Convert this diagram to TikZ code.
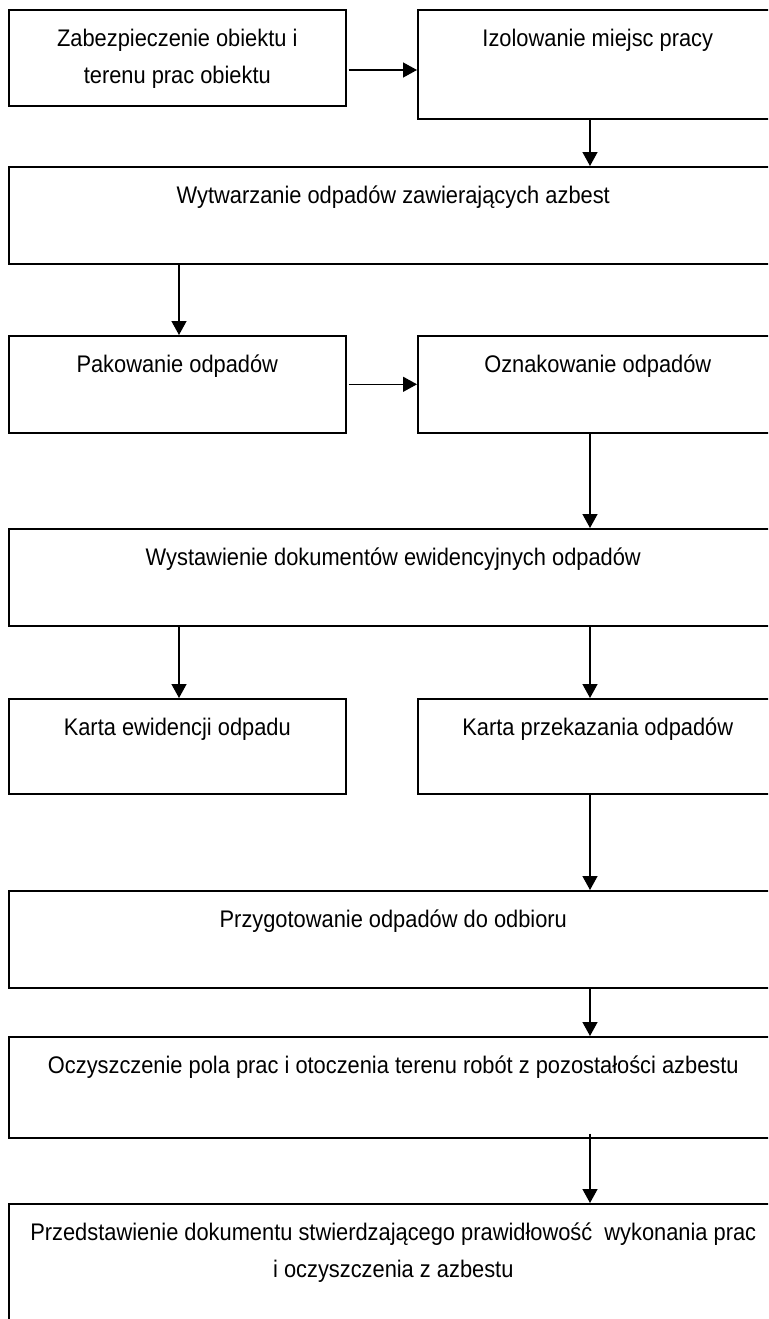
\documentclass[tikz,border=0pt]{standalone}
\usepackage{fontspec}
\setmainfont{Liberation Sans}[FakeStretch=0.91]
\usetikzlibrary{arrows.meta}

\begin{document}
\begin{tikzpicture}[
    x=1pt,y=-1pt,
    >={Triangle[length=14pt,width=15pt]},
    font=\fontsize{24}{37}\selectfont,
    stepbox/.style={draw,line width=1.6pt,anchor=north west,align=center,
      inner sep=0pt,text height=36.5pt,text depth=60.5pt},
    twolines/.style={text height=73.5pt},
    leftbox/.style={stepbox,minimum width=337pt},
    rightbox/.style={stepbox,minimum width=360pt},
    widebox/.style={stepbox,minimum width=769pt},
    flow/.style={->,line width=1.4pt}
  ]
  \useasboundingbox (0,0) rectangle (768,1319);
  \clip (0,0) rectangle (768,1319);
  \coordinate (colL) at (179,0);
  \coordinate (colR) at (590,0);
  \coordinate (row1) at (0,70);

  \node[leftbox,twolines,text depth=22.5pt] (zab) at (8,9) {Zabezpieczenie obiektu i\\terenu prac obiektu};
  \node[rightbox,text depth=72.5pt] (izo) at (417,9) {Izolowanie miejsc pracy};
  \node[widebox] (wyt) at (8,166) {Wytwarzanie odpadów zawierających azbest};
  \node[leftbox] (pak) at (8,335) {Pakowanie odpadów};
  \node[rightbox] (ozn) at (417,335) {Oznakowanie odpadów};
  \node[widebox] (wys) at (8,528) {Wystawienie dokumentów ewidencyjnych odpadów};
  \node[leftbox,text depth=58.5pt] (kew) at (8,698) {Karta ewidencji odpadu};
  \node[rightbox,text depth=58.5pt] (kpo) at (417,698) {Karta przekazania odpadów};
  \node[widebox] (prz) at (8,890) {Przygotowanie odpadów do odbioru};
  \node[widebox,text depth=64.5pt] (ocz) at (8,1036) {Oczyszczenie pola prac i otoczenia terenu robót z pozostałości azbestu};
  \node[widebox,twolines,text depth=113pt] (pre) at (8,1203) {Przedstawienie dokumentu stwierdzającego prawidłowość~ wykonania prac\\i oczyszczenia z azbestu};

  \draw[flow] ([xshift=2pt]zab.east |- row1) -- (izo.west |- row1);
  \draw[flow] (izo.south -| colR) -- (wyt.north -| colR);
  \draw[flow] (wyt.south -| colL) -- (pak.north -| colL);
  \draw[flow] ([xshift=2pt]pak.east) -- (ozn.west);
  \draw[flow] (ozn.south -| colR) -- (wys.north -| colR);
  \draw[flow] (wys.south -| colL) -- (kew.north -| colL);
  \draw[flow] (wys.south -| colR) -- (kpo.north -| colR);
  \draw[flow] (kpo.south -| colR) -- (prz.north -| colR);
  \draw[flow] (prz.south -| colR) -- (ocz.north -| colR);
  \draw[flow] ([yshift=5pt]ocz.south -| colR) -- (pre.north -| colR);
\end{tikzpicture}
\end{document}
